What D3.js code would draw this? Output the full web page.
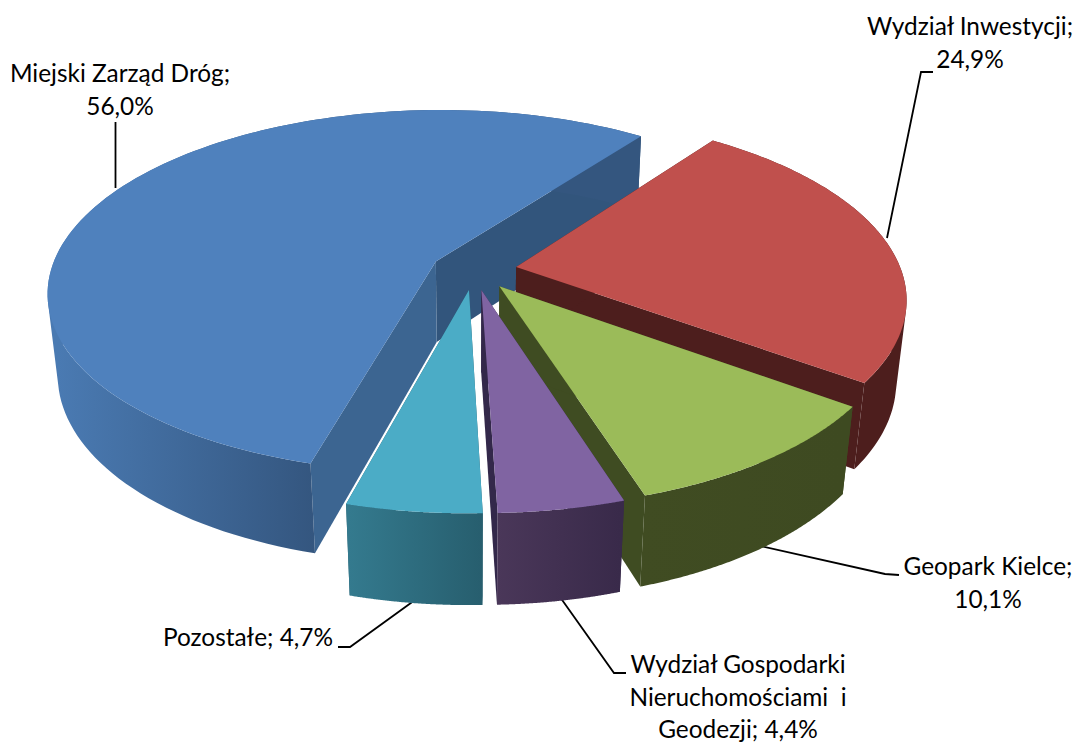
<!DOCTYPE html>
<html>
<head>
<meta charset="utf-8">
<script src="https://cdn.jsdelivr.net/npm/d3@7"></script>
<style>
html, body { margin: 0; padding: 0; background: #fff; }
text { font-family: Lato, "Open Sans", sans-serif; font-size: 24.4px; fill: #000; }
</style>
</head>
<body>
<div id="chart"></div>
<script>
// dane wykresu
const categories = ['Miejski Zarząd Dróg', 'Wydział Inwestycji', 'Geopark Kielce', 'Wydział Gospodarki Nieruchomościami i Geodezji', 'Pozostałe'];
const values = [56.0, 24.9, 10.1, 4.4, 4.7];
const valueLabels = ['56,0%', '24,9%', '10,1%', '4,4%', '4,7%'];

// kolory: gora, sciana zewn. (lewo/prawo), sciana przekroju
const topColors = ['#4f81bd', '#c0504d', '#9bbb59', '#8064a2', '#4bacc6'];
const wallLeft = ['#4a7ab2', '#4d1e1d', '#404c22', '#4a3759', '#347a8e'];
const wallRight = ['#34567f', '#4d1e1d', '#3e4a21', '#392a4a', '#275e6e'];
const cutStart = ['#32557c', '#4d1e1d', '#3f4c22', '#33284a', '#2a6070'];
const cutEnd = ['#3c6591', '#4d1e1d', '#3f4c22', '#33284a', '#2a6070'];

// etykiety: linie tekstu i odnosniki
const labelLines = [
    ['Miejski Zarząd Dróg;', '56,0%'],
    ['Wydział Inwestycji;', '24,9%'],
    ['Geopark Kielce;', '10,1%'],
    ['Wydział Gospodarki', 'Nieruchomościami  i', 'Geodezji; 4,4%'],
    ['Pozostałe; 4,7%']
];
const labelX = [120, 970, 988, 738, 248];
const labelY = [82, 35, 575, 673, 646];
const leaders = [
    [[115.5, 188], [115.5, 122]],
    [[887, 238], [921, 72], [933, 72]],
    [[760, 546], [885, 574], [899, 575]],
    [[560, 597], [614, 673], [626, 673]],
    [[415, 600], [350, 647], [338, 647]]
];

const width = 1078;
const height = 745;

// parametry rzutu perspektywicznego
const cx = 474, cy = 270;
const rx = 385, ry = 179;
const persp = 0.165;   // zbieznosc gora/dol
const lower = 0.024;   // dolna plaszczyzna mniejsza
const depth = 83;
const explode = 0.111;
const rotation = -164.9;

const svg = d3.select('#chart').append('svg')
    .attr('width', width)
    .attr('height', height);
const defs = svg.append('defs');

function project(u, v, h) {
    const w = 1 + persp * v + lower * h;
    return [cx + rx * u / w, cy + (-ry * v + depth * h) / w];
}

const pie = d3.pie().sort(null)
    .startAngle(rotation * Math.PI / 180)
    .endAngle((360 + rotation) * Math.PI / 180);
const slices = pie(values);
const line = d3.line();

slices.forEach((s, i) => {
    const mid = (s.startAngle + s.endAngle) / 2;
    const ex = explode * Math.sin(mid);
    const ey = explode * Math.cos(mid);
    const angles = d3.range(0, 121).map(k => s.startAngle + (s.endAngle - s.startAngle) * k / 120);
    const rim = h => angles.map(a => project(ex + Math.sin(a), ey + Math.cos(a), h));
    const apex = h => project(ex, ey, h);
    const top = rim(0), bottom = rim(1);
    const g = svg.append('g').attr('class', 'slice');

    // sciany przekroju
    g.append('path')
        .attr('d', line([apex(0), top[top.length - 1], bottom[bottom.length - 1], apex(1)]) + 'Z')
        .attr('fill', cutStart[i]);
    g.append('path')
        .attr('d', line([apex(0), top[0], bottom[0], apex(1)]) + 'Z')
        .attr('fill', cutEnd[i]);

    // gradient tylko na widocznej (przedniej) czesci sciany
    const front = bottom.filter((p, k) => Math.cos(angles[k]) < 0.2);
    const ext = d3.extent(front, p => p[0]);
    const grad = defs.append('linearGradient')
        .attr('id', 'wall' + i)
        .attr('gradientUnits', 'userSpaceOnUse')
        .attr('x1', ext[0]).attr('x2', ext[1])
        .attr('y1', 0).attr('y2', 0);
    grad.append('stop').attr('offset', 0).attr('stop-color', wallLeft[i]);
    grad.append('stop').attr('offset', 1).attr('stop-color', wallRight[i]);

    // sciana jako czworokaty w jednej sciezce, zeby zachowac pionowa krawedz boczna
    let wall = '';
    for (let k = 0; k < top.length - 1; k++) {
        const quad = [top[k], top[k + 1], bottom[k + 1], bottom[k]];
        if (d3.polygonArea(quad) < 0) quad.reverse();
        wall += line(quad) + 'Z';
    }
    g.append('path')
        .attr('d', wall)
        .attr('fill', 'url(#wall' + i + ')');

    g.append('path')
        .attr('d', line([apex(0)].concat(top)) + 'Z')
        .attr('fill', topColors[i]);
});

// odnosniki
leaders.forEach(l => {
    svg.insert('path', 'g')
        .attr('d', line(l))
        .attr('fill', 'none')
        .attr('stroke', '#000')
        .attr('stroke-width', 1.8);
});

// etykiety
labelLines.forEach((lines, i) => {
    const t = svg.append('text')
        .attr('text-anchor', 'middle')
        .attr('x', labelX[i])
        .attr('y', labelY[i]);
    lines.forEach((txt, k) => {
        t.append('tspan')
            .attr('x', labelX[i])
            .attr('dy', k === 0 ? 0 : 32.5)
            .style('white-space', 'pre')
            .text(txt);
    });
});
</script>
</body>
</html>
